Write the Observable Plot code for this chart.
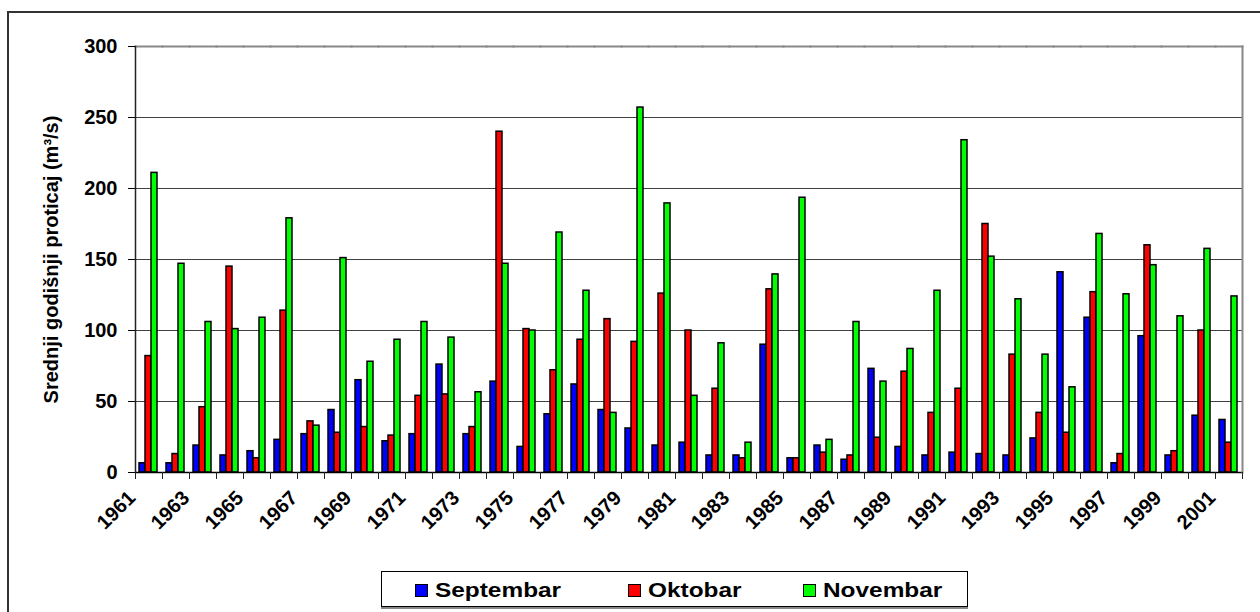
<!DOCTYPE html>
<html>
<head>
<meta charset="utf-8">
<script src="https://cdn.jsdelivr.net/npm/d3@7"></script>
<script src="https://cdn.jsdelivr.net/npm/@observablehq/plot@0.6"></script>
<style>
  html, body { margin: 0; padding: 0; background: #fff; }
  body { width: 1260px; height: 612px; overflow: hidden; position: relative; font-family: "Liberation Sans", Arial, sans-serif; }
  #frame { position: absolute; left: 7px; top: 11px; width: 1300px; height: 700px; border: 2px solid #333; box-sizing: border-box; }
  #chart { position: absolute; left: 0; top: 0; }
  #legend { position: absolute; left: 381px; top: 571px; width: 587px; height: 36px; border: 1px solid #000; box-shadow: 0 2px 0 #888; background: #fff; box-sizing: border-box; }
  .item { position: absolute; top: 0; height: 36px; display: flex; align-items: center; font-weight: bold; font-size: 20px; color: #000; white-space: nowrap; }
  .sw { width: 11px; height: 11px; border: 1px solid #000; margin-right: 7px; display: inline-block; }
  .tx { display: inline-block; transform: scaleX(1.22); transform-origin: left center; }
</style>
</head>
<body>
<div id="frame"></div>
<div id="chart"></div>
<div id="legend"></div>
<script>
const years = d3.range(1961, 2002);
const labelYears = years.filter((y, i) => i % 2 === 0);
const seriesNames = ["Septembar", "Oktobar", "Novembar"];
const seriesColors = ["#0000ff", "#ff0000", "#00ff00"];
const yTicks = [0, 50, 100, 150, 200, 250, 300];

const septembar = [6.5, 6.5, 19, 12, 15, 23, 27, 44, 65, 22, 27, 76, 27, 64, 18, 41, 62, 44, 31, 19, 21, 12, 12, 90, 10, 19, 9, 73, 18, 12, 14, 13, 12, 24, 141, 109, 6.5, 96, 12, 40, 37];
const oktobar = [82, 13, 46, 145, 10, 114, 36, 28, 32, 26, 54, 55, 32, 240, 101, 72, 93.5, 108, 92, 126, 100, 59, 10, 129, 10, 14, 12, 24.5, 71, 42, 59, 175, 83, 42, 28, 127, 13, 160, 15, 100, 21];
const novembar = [211, 147, 106, 101, 109, 179, 33, 151, 78, 93.5, 106, 95, 56.5, 147, 100, 169, 128, 42, 257, 189.5, 54, 91, 21, 139.5, 193.5, 23, 106, 64, 87, 128, 234, 152, 122, 83, 60, 168, 125.5, 146, 110, 157.5, 124];

const seriesValues = [septembar, oktobar, novembar];
const data = [];
years.forEach((yr, i) => {
  seriesNames.forEach((s, k) => data.push({year: yr, series: s, value: seriesValues[k][i]}));
});

const H = 560, MT = 46, MB = 88;
const innerH = H - MT - MB;

const chart = Plot.plot({
  width: 1260,
  height: H,
  marginLeft: 132,
  marginRight: 16,
  marginTop: MT,
  marginBottom: MB,
  style: {fontFamily: "'Liberation Sans', Arial, sans-serif", fontWeight: "bold", fontSize: "20px", color: "#000", background: "transparent", overflow: "visible"},
  fx: {domain: years, padding: 0, label: null, axis: null},
  x: {domain: seriesNames, paddingInner: 0, paddingOuter: 0.62, align: 0.4, axis: null},
  y: {domain: [0, 300], label: null},
  color: {domain: seriesNames, range: seriesColors},
  marks: [
    Plot.gridY(yTicks, {stroke: "#000", strokeOpacity: 0.75, strokeWidth: 1}),
    Plot.barY(data, {fx: "year", x: "series", y: "value", fill: "series", stroke: "#000", strokeWidth: 1.5, inset: 0}),
    Plot.ruleY([0], {stroke: "#000", strokeWidth: 1.5}),
    Plot.frame({anchor: "top", stroke: "#888", strokeWidth: 2}),
    Plot.frame({anchor: "right", facetAnchor: "right", stroke: "#888", strokeWidth: 2}),
    Plot.frame({anchor: "left", facetAnchor: "left", stroke: "#222", strokeWidth: 1.5}),
    Plot.frame({anchor: "left", stroke: "#222", strokeWidth: 1, insetTop: innerH, insetBottom: -6}),
    Plot.frame({anchor: "right", facetAnchor: "right", stroke: "#222", strokeWidth: 1, insetTop: innerH, insetBottom: -6}),
    Plot.axisY({ticks: yTicks, tickSize: 7, tickPadding: 11, label: null, fontSize: 20, fontWeight: "bold", letterSpacing: 1}),
    Plot.text(["Srednji godišnji proticaj (m³/s)"], {frameAnchor: "left", facetAnchor: "left", dx: -84, rotate: -90, fontSize: 20, fontWeight: "bold", textAnchor: "middle", lineAnchor: "middle", fill: "#000"}),
    Plot.axisFx({anchor: "bottom", ticks: labelYears, tickFormat: d => String(d), tickRotate: -45, tickSize: 0, tickPadding: 12, label: null, fontSize: 20, fontWeight: "bold", dx: -17, dy: 10})
  ]
});
document.getElementById("chart").appendChild(chart);

const legend = document.getElementById("legend");
const itemLeft = [33, 246, 421];
seriesNames.forEach((s, k) => {
  const it = document.createElement("div");
  it.className = "item";
  it.style.left = itemLeft[k] + "px";
  const sw = document.createElement("span");
  sw.className = "sw";
  sw.style.background = seriesColors[k];
  const tx = document.createElement("span");
  tx.className = "tx";
  tx.textContent = s;
  it.appendChild(sw);
  it.appendChild(tx);
  legend.appendChild(it);
});
</script>
</body>
</html>
